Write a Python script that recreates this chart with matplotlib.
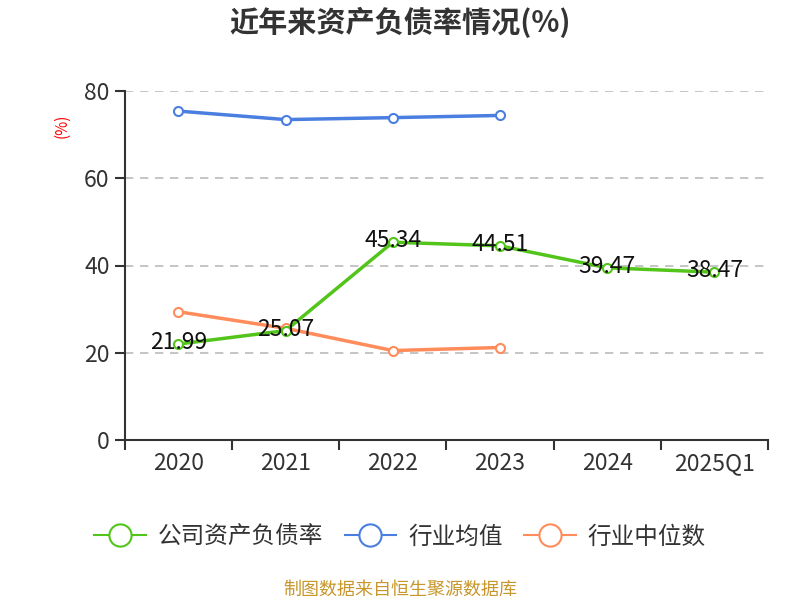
import matplotlib
matplotlib.use("Agg")
import matplotlib.pyplot as plt
from matplotlib.lines import Line2D

plt.rcParams['font.family'] = ['Noto Sans CJK SC', 'DejaVu Sans']

categories = ['2020', '2021', '2022', '2023', '2024', '2025Q1']
company = [21.99, 25.07, 45.34, 44.51, 39.47, 38.47]
industry_avg = [75.4, 73.45, 73.9, 74.4]
industry_median = [29.4, 25.6, 20.5, 21.2]

c_green = '#52C41A'
c_blue = '#4A7EE0'
c_orange = '#FF8C5A'

fig = plt.figure(figsize=(8, 6), dpi=100)
ax = fig.add_axes([0.156, 0.2667, 0.804, 0.5816])

x = list(range(len(categories)))
mk = dict(marker='o', markersize=6.5, markerfacecolor='white', markeredgewidth=1.5)
ax.plot(x[:len(industry_avg)], industry_avg, color=c_blue, lw=2.5, markeredgecolor=c_blue, zorder=3, **mk)
ax.plot(x[:len(industry_median)], industry_median, color=c_orange, lw=2.5, markeredgecolor=c_orange, zorder=3, **mk)
ax.plot(x, company, color=c_green, lw=2.5, markeredgecolor=c_green, zorder=4, **mk)

for xi, v in zip(x, company):
    ax.text(xi, v + 0.3, f'{v:.2f}', ha='center', va='center', fontsize=16.5, color='#111111', zorder=5)

ax.set_xlim(-0.5, len(categories) - 0.5)
ax.set_ylim(0, 80)
ax.set_yticks([0, 20, 40, 60, 80])
ax.yaxis.grid(True, linestyle=(0, (5, 4)), color='#BBBBBB', lw=1.2)
ax.set_axisbelow(True)

ax.set_xticks(x)
ax.set_xticklabels(categories)
ax.set_xticks([i - 0.5 for i in range(len(categories) + 1)], minor=True)
ax.tick_params(axis='x', which='major', length=0, pad=9, labelsize=16.5, labelcolor='#333333')
ax.tick_params(axis='x', which='minor', length=7, width=1.5, color='#333333')
ax.tick_params(axis='y', length=7, width=1.5, color='#333333', labelsize=16.5, labelcolor='#333333', pad=4)

for s in ['top', 'right']:
    ax.spines[s].set_visible(False)
for s in ['left', 'bottom']:
    ax.spines[s].set_color('#333333')
    ax.spines[s].set_linewidth(1.5)

fig.text(0.078, 0.79, '(%)', rotation=90, color='red', fontsize=11, ha='center', va='center')

fig.text(0.5, 0.962, '近年来资产负债率情况(%)', ha='center', va='center', fontsize=21, fontweight='bold', color='#333333')

handles = [
    Line2D([0], [0], color=c, lw=1.5, marker='o', markersize=16, markerfacecolor='white',
           markeredgecolor=c, markeredgewidth=1.5)
    for c in (c_green, c_blue, c_orange)
]
fig.legend(handles, ['公司资产负债率', '行业均值', '行业中位数'], loc='center', bbox_to_anchor=(0.5, 0.105),
           ncol=3, frameon=False, fontsize=17, handlelength=2.2, columnspacing=0.9, handletextpad=0.5,
           labelcolor='#333333')

fig.text(0.5, 0.017, '制图数据来自恒生聚源数据库', ha='center', va='center', fontsize=13, color='#C8962A')

fig.savefig('out.png', dpi=100)
